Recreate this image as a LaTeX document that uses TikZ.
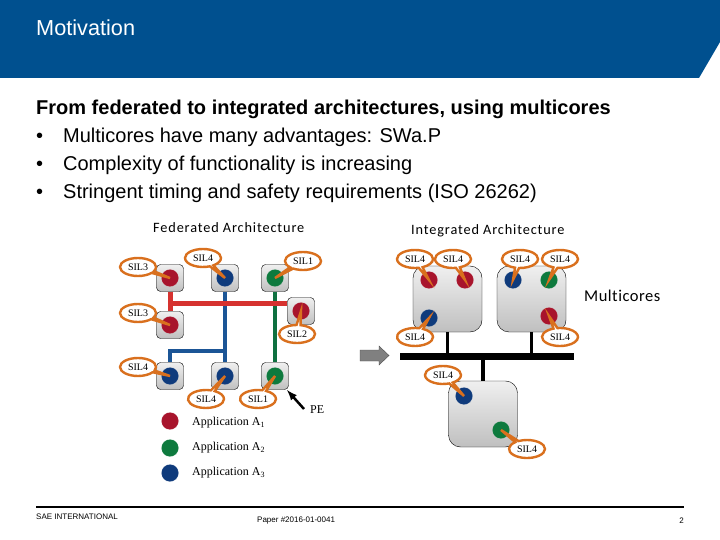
\documentclass[tikz,border=0pt]{standalone}
\usepackage{fontspec}
\setmainfont{Liberation Sans}
\newfontfamily\silfont{Liberation Serif}
\newfontfamily\archfont[LetterSpace=6,Ligatures=NoCommon]{Carlito}
\newfontfamily\multifont[LetterSpace=3,Ligatures=NoCommon]{Carlito}
\usetikzlibrary{shapes.callouts}
\definecolor{headblue}{HTML}{00508F}
\definecolor{appred}{HTML}{A8142C}
\definecolor{appgreen}{HTML}{0E7A3E}
\definecolor{appblue}{HTML}{0F3B7C}
\definecolor{busred}{HTML}{D6322F}
\definecolor{busgreen}{HTML}{0E7040}
\definecolor{busblue}{HTML}{1B5596}
\definecolor{silorange}{HTML}{D9701E}
\tikzset{
	pebox/.style = {draw = black, rounded corners = 4, top color = gray!12, bottom color = gray!50, minimum width = 27, minimum height = 27, inner sep = 0},
	cpubox/.style = {draw = black, rounded corners = 12, top color = gray!12, bottom color = gray!50, minimum width = 69, minimum height = 66, inner sep = 0},
	appdot/.style = {circle, draw = #1!70!white, densely dotted, fill = #1, minimum size = 17, inner sep = 0},
	silnote/.style = {ellipse callout, draw = silorange, line width = 2.4, fill = white, callout pointer arc = 13, minimum width = 36, minimum height = 18, inner sep = 0, font = \silfont\fontsize{10}{10}\selectfont},
	bodyline/.style = {anchor = west, inner sep = 0, font = \fontsize{20}{22}\selectfont},
	archtext/.style = {anchor = west, inner sep = 0, font = \archfont\fontsize{14.3}{16}\selectfont},
	legendtext/.style = {anchor = west, inner sep = 0, font = \silfont\fontsize{12}{14}\selectfont}
}
\begin{document}
\begin{tikzpicture}[x = 1pt, y = -1pt]
	\useasboundingbox (0, 0) rectangle (720, 540);
	% header
	\fill [headblue] (0, 0) -- (720, 0) -- (720, 42) -- (699, 78) -- (0, 78) -- cycle;
	\node (title) at (36, 28) [anchor = west, inner sep = 0, white, font = \fontsize{21.7}{24}\selectfont] {Motivation};
	\node (line1) at (36, 109) [bodyline, font = \bfseries\fontsize{20}{22}\selectfont] {From federated to integrated architectures, using multicores};
	\node (line2) at (36, 137) [bodyline] {\makebox[27pt][l]{•}Multicores have many advantages: SWa.P};
	\node (line3) at (36, 165) [bodyline] {\makebox[27pt][l]{•}Complexity of functionality is increasing};
	\node (line4) at (36, 193) [bodyline] {\makebox[27pt][l]{•}Stringent timing and safety requirements (ISO 26262)};
	\node (fedtitle) at (153, 228) [archtext] {Federated Architecture};
	\node (inttitle) at (411, 231) [archtext] {Integrated Architecture};
	\node (multi) at (584, 296) [archtext, font = \multifont\fontsize{16.5}{18}\selectfont] {Multicores};
	% federated side
	\foreach \name/\xpos/\ypos/\col in {1/170/278/appred, 2/225/278/appblue, 3/275/278/appgreen, 4/301/311/appred, 5/170/325/appred, 6/170/376/appblue, 7/225/376/appblue, 8/275/376/appgreen} {
		\node (pe\name) at (\xpos, \ypos) [pebox] {};
		\node (dot\name) at (\xpos, \ypos) [appdot = \col] {};
	}
	\coordinate (bluej) at (225, 351);
	\coordinate (redj) at (170, 303);
	\draw [busblue, line width = 3.5] (pe2.south) -- (pe7.north);
	\draw [busblue, line width = 3.5] (bluej) -| (pe6.north);
	\draw [busgreen, line width = 3.5] (pe3.south) -- (pe8.north);
	\draw [busred, line width = 5] (pe1.south) -- (pe5.north);
	\draw [busred, line width = 5] (redj) -- (pe4.west |- redj);
	% integrated side
	\node (bus) at (487, 356.5) [fill = black, minimum width = 174, minimum height = 7, inner sep = 0] {};
	\node (cpu1) at (447.5, 299) [cpubox] {};
	\node (cpu2) at (531.5, 299) [cpubox] {};
	\node (cpu3) at (483, 414) [cpubox] {};
	\draw [black, line width = 3.5] (cpu1.south) -- (cpu1.south |- bus.north);
	\draw [black, line width = 3.5] (cpu2.south) -- (cpu2.south |- bus.north);
	\draw [black, line width = 3.5] (bus.south -| cpu3.north) -- (cpu3.north);
	\foreach \name/\xpos/\ypos/\col in {a/429/280/appred, b/465/280/appred, c/429/318/appblue, d/513/280/appblue, e/549/280/appgreen, f/549/316/appred, g/464/396/appblue, h/501/430/appgreen, l1/170/421/appred, l2/170/448/appgreen, l3/170/473/appblue} {
		\node (dot\name) at (\xpos, \ypos) [appdot = \col] {};
	}
	% labels on the processors
	\foreach \name/\xpos/\ypos/\lab in {1/138/267/SIL3, 2/203/258/SIL4, 3/303/261/SIL1, 4/297/334/SIL2, 5/138/313/SIL3, 6/138/367/SIL4, 7/206/399/SIL4, 8/258/399/SIL1, a/415/259/SIL4, b/453/259/SIL4, c/415/337/SIL4, d/520/259/SIL4, e/560/259/SIL4, f/560/337/SIL4, g/443/375/SIL4, h/527/449/SIL4} {
		\node (sil\name) at (\xpos, \ypos) [silnote, callout absolute pointer = {(dot\name.center)}] {\lab};
	}
	% arrows
	\node (pelabel) at (310, 410) [legendtext] {PE};
	\coordinate (petip) at (287, 390);
	\draw [black, line width = 2.5, -latex] (304, 409) -- (petip);
	\draw [black!70, fill = gray] (360, 350) -- (379, 350) -- (379, 346) -- (389, 355.5) -- (379, 365) -- (379, 361) -- (360, 361) -- cycle;
	% legend
	\node (leg1) at (192, 423) [legendtext] {Application A\textsubscript{1}};
	\node (leg2) at (192, 448) [legendtext] {Application A\textsubscript{2}};
	\node (leg3) at (192, 473) [legendtext] {Application A\textsubscript{3}};
	% footer
	\draw [black, line width = 1.5] (36, 507) -- (684, 507);
	\node (sae) at (36, 517) [anchor = west, inner sep = 0, font = \fontsize{8}{9}\selectfont] {SAE INTERNATIONAL};
	\node (paper) at (257, 520.5) [anchor = west, inner sep = 0, font = \fontsize{8}{9}\selectfont] {Paper \#2016-01-0041};
	\node (page) at (684, 520.5) [anchor = east, inner sep = 0, font = \fontsize{8}{9}\selectfont] {2};
\end{tikzpicture}
\end{document}
